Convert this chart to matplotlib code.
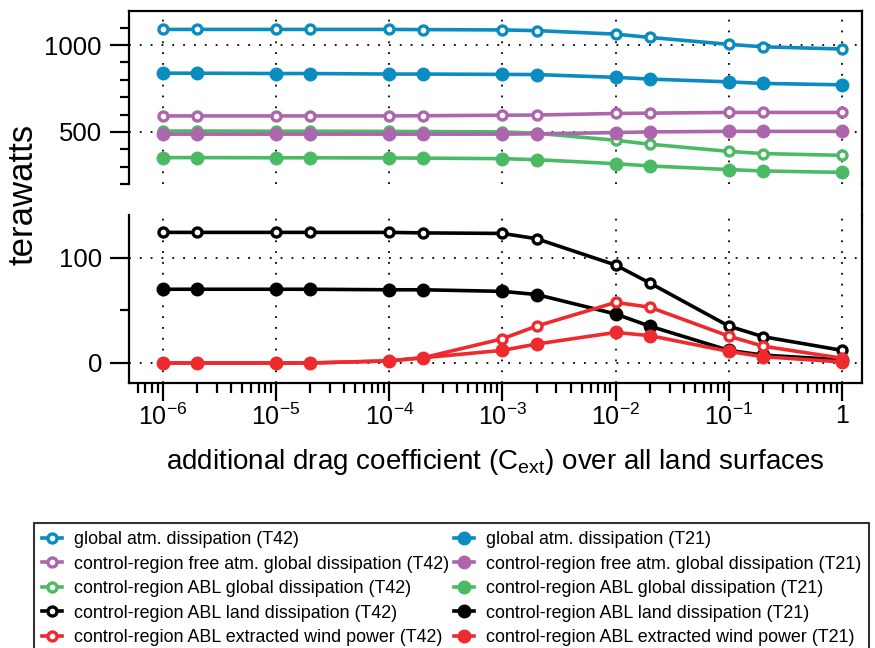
import numpy as np
import matplotlib
matplotlib.use("Agg")
import matplotlib.pyplot as plt
from matplotlib.lines import Line2D
from matplotlib.ticker import MultipleLocator, LogLocator, NullFormatter

plt.rcParams['font.family'] = ['Liberation Sans', 'DejaVu Sans']
plt.rcParams['mathtext.fontset'] = 'custom'
plt.rcParams['mathtext.rm'] = 'Liberation Sans'
plt.rcParams['mathtext.it'] = 'Liberation Sans:italic'
plt.rcParams['mathtext.default'] = 'regular'

# drag coefficient values (x) and results in terawatts
c_ext = [1e-6, 2e-6, 1e-5, 2e-5, 1e-4, 2e-4, 1e-3, 2e-3, 1e-2, 2e-2, 1e-1, 2e-1, 1]

glob_t42 = [1090, 1090, 1090, 1090, 1090, 1089, 1087, 1083, 1063, 1044, 1004, 990, 977]
glob_t21 = [838, 838, 836, 836, 833, 833, 831, 830, 814, 804, 788, 779, 771]
free_t42 = [592, 592, 592, 592, 592, 593, 596, 597, 606, 608, 612, 612, 612]
free_t21 = [487, 487, 487, 487, 487, 487, 487, 489, 496, 500, 503, 503, 503]
ablg_t42 = [505, 505, 504, 504, 503, 502, 500, 492, 452, 429, 388, 375, 365]
ablg_t21 = [352, 352, 351, 351, 350, 349, 346, 340, 317, 304, 283, 275, 267]

land_t42 = [124, 124, 124, 124, 124, 123.5, 123, 118, 93, 76, 35, 25, 12]
land_t21 = [70, 70, 70, 70, 69.5, 69.5, 68, 65, 46.5, 35, 12, 7.5, 3]
wind_t42 = [0, 0, 0, 0, 2, 5, 23, 35, 57.5, 53, 25.5, 16, 4.5]
wind_t21 = [0, 0, 0, 0, 2, 5, 12, 18, 29, 26, 11, 6, 1]

xtick_vals = [1e-6, 1e-5, 1e-4, 1e-3, 1e-2, 1e-1, 1]
xtick_labels = ['$10^{-6}$', '$10^{-5}$', '$10^{-4}$', '$10^{-3}$', '$10^{-2}$', '$10^{-1}$', '1']

blue = '#0a8cc0'
purple = '#ad66ae'
green = '#4cba65'
red = '#ef2a2e'
black = '#000000'

lab_t42 = ['global atm. dissipation (T42)',
           'control-region free atm. global dissipation (T42)',
           'control-region ABL global dissipation (T42)',
           'control-region ABL land dissipation (T42)',
           'control-region ABL extracted wind power (T42)']
lab_t21 = [s.replace('T42', 'T21') for s in lab_t42]

W, H = 875, 648
fig = plt.figure(figsize=(W / 100, H / 100), dpi=100)
left, right = 129, 862
ax_top = fig.add_axes([left / W, 1 - 184 / H, (right - left) / W, (184 - 11) / H])
ax_bot = fig.add_axes([left / W, 1 - 383 / H, (right - left) / W, (383 - 215) / H])

spine_lw = 1.6
grid_kw = dict(color='k', linestyle=(0, (1, 5)), linewidth=1.3)
line_lw = 2.6
open_kw = dict(ms=6.5, mfc='white', mew=2.4)
fill_kw = dict(ms=9, mew=1)


def draw(ax, y, color, filled, z):
    if filled:
        ax.plot(c_ext, y, '-o', color=color, lw=line_lw, mfc=color, mec=color,
                zorder=z, **fill_kw)
    else:
        ax.plot(c_ext, y, '-o', color=color, lw=line_lw, mec=color, zorder=z, **open_kw)


draw(ax_top, ablg_t42, green, False, 3)
draw(ax_top, ablg_t21, green, True, 3.5)
draw(ax_top, free_t42, purple, False, 4)
draw(ax_top, free_t21, purple, True, 4.5)
draw(ax_top, glob_t42, blue, False, 5)
draw(ax_top, glob_t21, blue, True, 5.5)
draw(ax_bot, land_t42, black, False, 3)
draw(ax_bot, land_t21, black, True, 3.5)
draw(ax_bot, wind_t42, red, False, 4)
draw(ax_bot, wind_t21, red, True, 4.5)

for ax in (ax_top, ax_bot):
    ax.set_xscale('log')
    ax.set_xlim(10 ** -6.3, 10 ** 0.177)
    ax.set_xticks(xtick_vals)
    ax.xaxis.set_minor_locator(LogLocator(base=10, subs=np.arange(2, 10), numticks=20))
    ax.xaxis.set_minor_formatter(NullFormatter())
    for sp in ax.spines.values():
        sp.set_linewidth(spine_lw)
    ax.grid(True, which='major', **grid_kw)
    ax.set_axisbelow(True)
    ax.tick_params(axis='y', which='major', direction='out', length=13.5, width=spine_lw,
                   labelsize=18.5, pad=6)
    ax.tick_params(axis='y', which='minor', direction='out', length=6.5, width=spine_lw)

ax_top.set_ylim(200, 1196)
ax_top.yaxis.set_major_locator(MultipleLocator(500))
ax_top.yaxis.set_minor_locator(MultipleLocator(100))
ax_top.spines['bottom'].set_visible(False)
ax_top.tick_params(axis='x', which='both', bottom=False, labelbottom=False)

ax_bot.set_ylim(-19, 140.5)
ax_bot.yaxis.set_major_locator(MultipleLocator(100))
ax_bot.yaxis.set_minor_locator(MultipleLocator(50))
ax_bot.spines['top'].set_visible(False)
ax_bot.set_xticklabels(xtick_labels)
ax_bot.tick_params(axis='x', which='major', direction='out', length=13, width=spine_lw,
                   labelsize=18, pad=2)
ax_bot.tick_params(axis='x', which='minor', direction='out', length=7, width=spine_lw)
ax_bot.set_xlabel('additional drag coefficient (C$_{ext}$) over all land surfaces',
                  fontsize=20, labelpad=12)

# right spine runs through the break
fig.add_artist(Line2D([right / W, right / W], [1 - 184 / H, 1 - 215 / H],
                      transform=fig.transFigure, color='k', lw=spine_lw))

fig.text(23 / W, 1 - 194 / H, 'terawatts', rotation=90, fontsize=25,
         ha='center', va='center')

handles = []
for color, lab in zip([blue, purple, green, black, red], lab_t42):
    handles.append(Line2D([], [], color=color, lw=line_lw, marker='o', mec=color,
                          label=lab, **open_kw))
for color, lab in zip([blue, purple, green, black, red], lab_t21):
    handles.append(Line2D([], [], color=color, lw=line_lw, marker='o', mfc=color,
                          mec=color, label=lab, **fill_kw))

leg = fig.legend(handles=handles, loc='upper left', bbox_to_anchor=(34 / W, 1 - 523 / H),
                 ncol=2, fontsize=12.9, frameon=True, fancybox=False, edgecolor='k',
                 borderpad=0.45, labelspacing=0.42, handlelength=1.1, handletextpad=0.7,
                 columnspacing=0.25, borderaxespad=0)
leg.get_frame().set_linewidth(1.5)

fig.savefig('out.png', dpi=100)
